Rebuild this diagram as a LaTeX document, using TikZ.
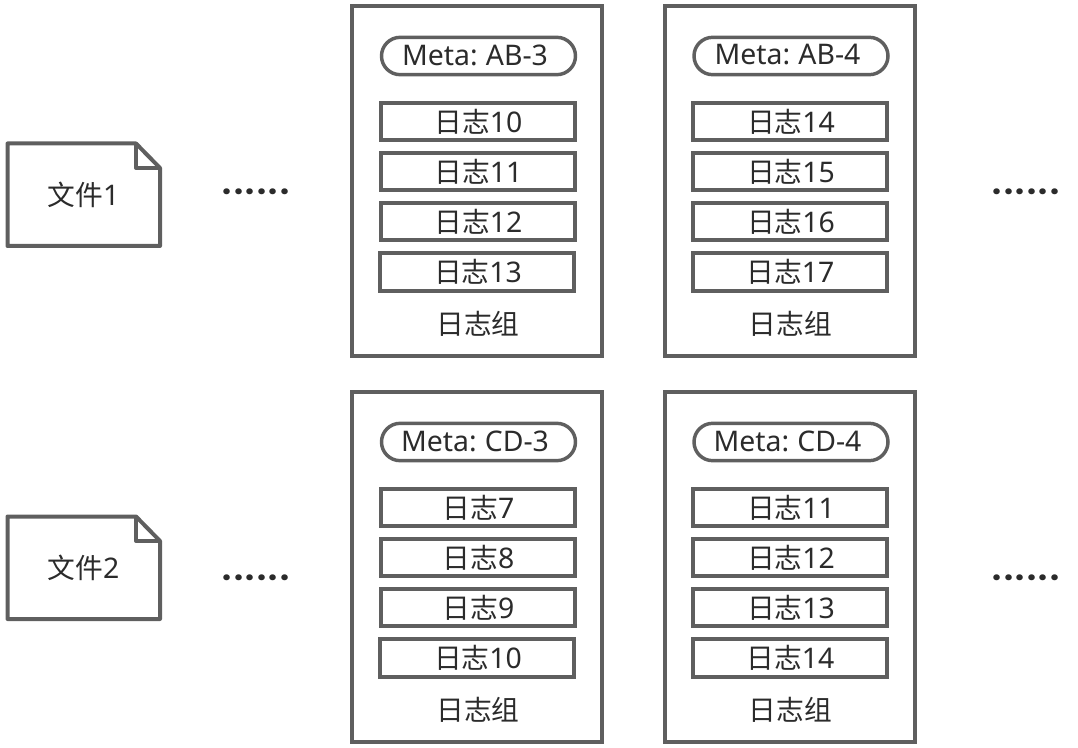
\documentclass[tikz,border=0pt]{standalone}
\usepackage{fontspec}
\setmainfont{Noto Sans}
\newfontfamily\cjk[Scale=0.976]{Noto Sans CJK SC}
\newfontfamily\dotfont{Poppins}
\definecolor{edge}{HTML}{5F5F5F}
\definecolor{ink}{HTML}{2B2B2B}
\newcommand{\rz}{{\cjk 日志}}
\newcommand{\dotrow}{\fontsize{24}{24}\dotfont\bfseries\makebox[50pt][s]{.\hfil.\hfil.\hfil.\hfil.\hfil.}}
\tikzset{
  x=0.75pt,y=-0.75pt,
  every node/.style={text=ink,font=\fontsize{21.3}{25}\selectfont,inner sep=0pt,outer sep=0pt},
  groupbox/.style={draw=edge,line width=3pt,minimum width=187.5pt,minimum height=262.5pt},
  logbox/.style={draw=edge,line width=3pt,minimum width=145.5pt,minimum height=28pt},
  metabox/.style={draw=edge,line width=2.6pt,minimum width=145.5pt,minimum height=28pt,rounded corners=14pt},
  filebody/.style={draw=edge,line width=3pt,line join=round},
  dotsnode/.style={text=ink,anchor=base,inner sep=0pt}
}
\newcommand{\block}[8]{%
  % #1 prefix, #2 left x, #3 top y, #4 meta, #5-#8 numbers
  \node[groupbox] (#1g) at (#2+125,#3+175) {};
  \node[metabox] (#1m) at (#2+126.5,#3+50) {};
  \node at (#2+123,#3+49) {Meta:\hspace{-1.2pt} #4};
  \node[logbox] (#1a) at (#2+125.5,#3+115.5) {\hspace{1.5pt}\rz #5};
  \node[logbox] (#1b) at (#2+125.5,#3+165.5) {\hspace{1.5pt}\rz #6};
  \node[logbox] (#1c) at (#2+125.5,#3+215.5) {\hspace{1.5pt}\rz #7};
  \node[logbox] (#1d) at (#2+125,#3+266) {\hspace{1.5pt}\rz #8};
  \node (#1t) at (#2+126,#3+318) {{\cjk 日志组}};
}
\begin{document}
\begin{tikzpicture}
\useasboundingbox (0,0) rectangle (1078,748);
\block{p}{352}{6}{AB-3}{10}{11}{12}{13}
\block{q}{664.5}{6}{AB-4}{14}{15}{16}{17}
\block{r}{352}{392}{CD-3}{7}{8}{9}{10}
\block{s}{664.5}{392}{CD-4}{11}{12}{13}{14}
% files
\draw[filebody] (7.5,143.5) -- (136,143.5) -- (160,168) -- (160,246) -- (7.5,246) -- cycle;
\draw[filebody] (136,143.5) -- (136,168) -- (160,168);
\node (f1) at (83.5,195) {{\cjk 文件}1};
\draw[filebody] (7.5,516.5) -- (136,516.5) -- (160,541) -- (160,619) -- (7.5,619) -- cycle;
\draw[filebody] (136,516.5) -- (136,541) -- (160,541);
\node (f2) at (83.5,568) {{\cjk 文件}2};
% dots
\node[dotsnode] (d1) at (256,194.5) {\dotrow};
\node[dotsnode] (d2) at (1026,194.5) {\dotrow};
\node[dotsnode] (d3) at (256,580.5) {\dotrow};
\node[dotsnode] (d4) at (1026,580.5) {\dotrow};
\end{tikzpicture}
\end{document}
